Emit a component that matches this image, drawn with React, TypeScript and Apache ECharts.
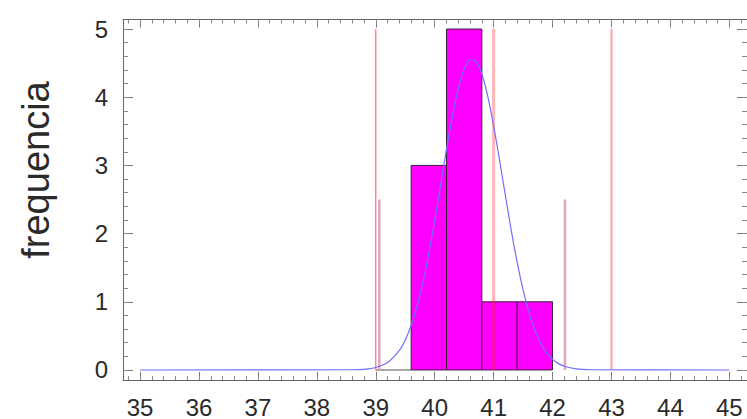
import React, { useEffect, useRef } from "react";
import * as echarts from "echarts";

// Histogram bins: [start, end, count]
const binStarts = [39.0, 39.6, 40.2, 40.8, 41.4];
const binEnds = [39.6, 40.2, 40.8, 41.4, 42.0];
const binCounts = [0, 3, 5, 1, 1];

// Fitted normal curve
const curveX = [35, 38.6, 38.8, 39.0, 39.2, 39.4, 39.5, 39.6, 39.7, 39.8, 39.9, 40.0, 40.1, 40.2, 40.3, 40.4, 40.5, 40.6, 40.7, 40.8, 40.9, 41.0, 41.1, 41.2, 41.3, 41.4, 41.5, 41.6, 41.7, 41.8, 41.9, 42.0, 42.1, 42.2, 42.4, 42.6, 45];
const curveY = [0, 0.003, 0.01, 0.036, 0.109, 0.287, 0.44, 0.653, 0.934, 1.287, 1.711, 2.194, 2.715, 3.235, 3.72, 4.125, 4.41, 4.55, 4.525, 4.34, 4.015, 3.58, 3.081, 2.555, 2.045, 1.577, 1.174, 0.842, 0.582, 0.389, 0.25, 0.155, 0.093, 0.054, 0.016, 0.004, 0];

// Spec limits (LSL, target, USL) and ±3 sigma markers
const specLines = [39, 41, 43];
const specHeight = 5;
const sigmaLines = [39.06, 42.21];
const sigmaHeight = 2.5;

// Axis ticks
const xTickLabels = [35, 36, 37, 38, 39, 40, 41, 42, 43, 44, 45];
const yTickLabels = [0, 1, 2, 3, 4, 5];

const X_MIN = 34.71;
const X_MAX = 45.3;
const Y_MIN = -0.147;
const Y_MAX = 5.14;

function minorTicks(min: number, max: number, step: number) {
  const out: number[] = [];
  const start = Math.ceil(min / step) * step;
  for (let v = start; v <= max + 1e-9; v += step) out.push(Math.round(v * 1000) / 1000);
  return out;
}

const FONT = "Liberation Sans, Arial, sans-serif";

export default function App() {
  const ref = useRef<HTMLDivElement>(null);
  useEffect(() => {
    if (!ref.current) return;
    const chart = echarts.init(ref.current, null, { renderer: "svg" });
    const frame = { show: true, lineStyle: { color: "#666", width: 1 } };
    const gridRect = { left: 123, top: 19.5, right: 0, bottom: 39 };
    const xMinor = minorTicks(X_MIN, X_MAX, 0.2);
    const yMinor = minorTicks(Y_MIN, Y_MAX, 0.2);

    const mainX = (pos: "bottom" | "top", labels: boolean) => ({
      type: "value",
      gridIndex: 0,
      position: pos,
      min: X_MIN,
      max: X_MAX,
      axisLine: { ...frame, onZero: false },
      splitLine: { show: false },
      axisTick: { show: true, inside: true, length: 8, customValues: xTickLabels, lineStyle: { color: "#777" } },
      axisLabel: labels
        ? { show: true, customValues: xTickLabels, fontSize: 24, fontFamily: FONT, color: "#2a2a2a", margin: 15 }
        : { show: false },
    });
    const mainY = (pos: "left" | "right", labels: boolean) => ({
      type: "value",
      gridIndex: 0,
      position: pos,
      min: Y_MIN,
      max: Y_MAX,
      axisLine: { ...frame, onZero: false },
      splitLine: { show: false },
      axisTick: { show: true, inside: true, length: 10, customValues: yTickLabels, lineStyle: { color: "#777" } },
      axisLabel: labels
        ? { show: true, customValues: yTickLabels, fontSize: 24, fontFamily: FONT, color: "#2a2a2a", margin: 15 }
        : { show: false },
    });
    const minorX = (pos: "bottom" | "top") => ({
      type: "value",
      gridIndex: 1,
      position: pos,
      min: X_MIN,
      max: X_MAX,
      axisLine: { show: false, onZero: false },
      splitLine: { show: false },
      axisTick: { show: true, inside: true, length: 4, customValues: xMinor, lineStyle: { color: "#888" } },
      axisLabel: { show: false },
    });
    const minorY = (pos: "left" | "right") => ({
      type: "value",
      gridIndex: 1,
      position: pos,
      min: Y_MIN,
      max: Y_MAX,
      axisLine: { show: false, onZero: false },
      splitLine: { show: false },
      axisTick: { show: true, inside: true, length: 5, customValues: yMinor, lineStyle: { color: "#888" } },
      axisLabel: { show: false },
    });

    const histData = binStarts.map((s, i) => [s, binEnds[i], binCounts[i]]);
    const curveData = curveX.map((x, i) => [x, curveY[i]]);

    const vline = (x: number, h: number, color: string, width: number) => ({
      type: "line",
      xAxisIndex: 0,
      yAxisIndex: 0,
      data: [[x, 0], [x, h]],
      symbol: "none",
      silent: true,
      lineStyle: { color, width },
      z: 3,
    });

    chart.setOption({
      animation: false,
      backgroundColor: "#ffffff",
      grid: [gridRect, gridRect],
      xAxis: [mainX("bottom", true), mainX("top", false), minorX("bottom"), minorX("top")],
      yAxis: [mainY("left", true), mainY("right", false), minorY("left"), minorY("right")],
      graphic: [
        {
          type: "text",
          x: 36,
          y: 170,
          rotation: Math.PI / 2,
          style: {
            text: "frequencia",
            fontSize: 38,
            fontFamily: FONT,
            fill: "#2a2a2a",
            textAlign: "center",
            textVerticalAlign: "middle",
          },
        },
      ],
      series: [
        {
          type: "custom",
          xAxisIndex: 0,
          yAxisIndex: 0,
          data: histData,
          encode: { x: [0, 1], y: 2 },
          z: 2,
          renderItem: (params: any, api: any) => {
            const x0 = api.value(0);
            const x1 = api.value(1);
            const h = api.value(2);
            const p0 = api.coord([x0, h]);
            const p1 = api.coord([x1, 0]);
            return {
              type: "rect",
              shape: { x: p0[0], y: p0[1], width: p1[0] - p0[0], height: p1[1] - p0[1] },
              style: {
                fill: h > 0 ? "#ff00ff" : "none",
                stroke: h > 0 ? "#3d1f3d" : "#8a8a8a",
                lineWidth: h > 0 ? 1 : 1.5,
              },
            };
          },
        },
        vline(specLines[0], specHeight, "rgba(255,60,60,0.75)", 1.2),
        vline(specLines[1], specHeight, "rgba(255,40,40,0.35)", 3),
        vline(specLines[2], specHeight, "rgba(255,40,40,0.45)", 2),
        vline(sigmaLines[0], sigmaHeight, "#d9a8bb", 2.5),
        vline(sigmaLines[1], sigmaHeight, "#d9a8bb", 2.5),
        {
          type: "line",
          xAxisIndex: 0,
          yAxisIndex: 0,
          data: curveData,
          symbol: "none",
          smooth: 0.3,
          silent: true,
          lineStyle: { color: "#6f6fff", width: 1.2 },
          z: 4,
        },
      ],
    });
    return () => chart.dispose();
  }, []);
  return (
    <div
      ref={ref}
      style={{ position: "absolute", left: 0, top: 0, width: 747, height: 419, background: "#fff" }}
    />
  );
}
